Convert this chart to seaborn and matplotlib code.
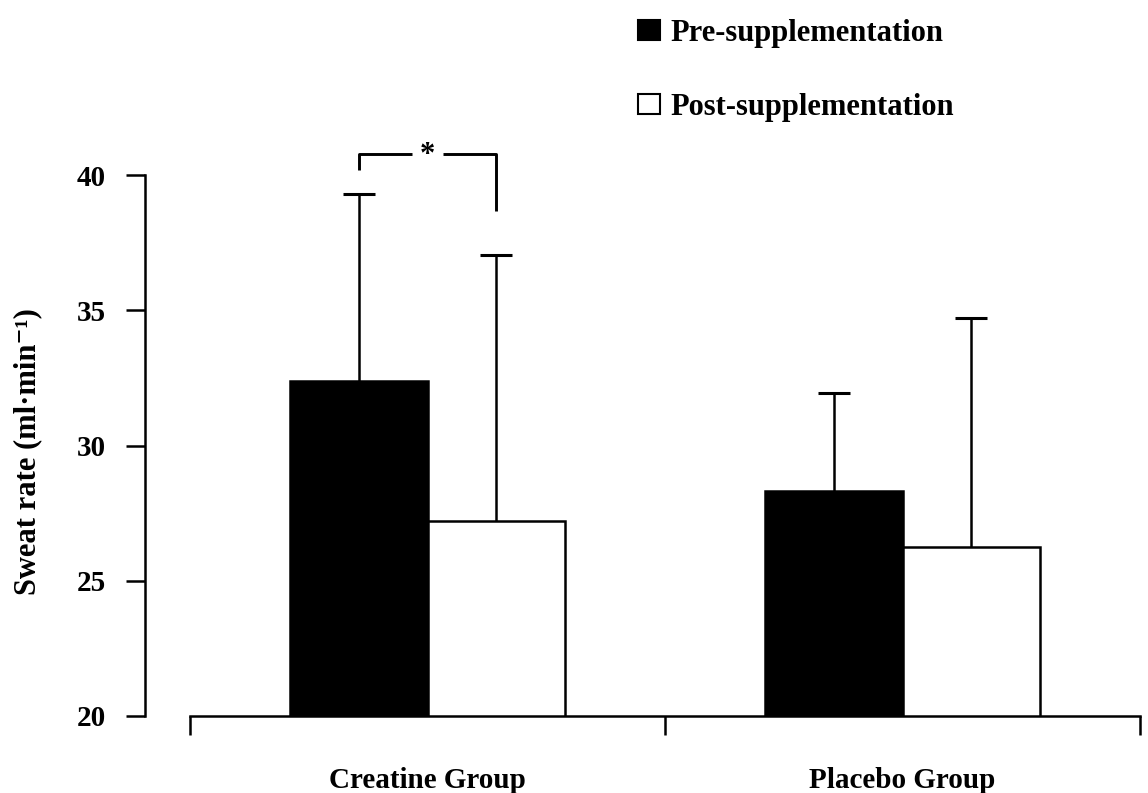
import matplotlib
matplotlib.use("Agg")
import matplotlib.pyplot as plt
import seaborn as sns
import pandas as pd
import numpy as np
from matplotlib.patches import Patch
from matplotlib.ticker import FixedLocator

groups = ["Creatine Group", "Placebo Group"]
phases = ["Pre-supplementation", "Post-supplementation"]
pre_mean = [32.4, 28.3]
post_mean = [27.2, 26.25]
pre_sd = [6.9, 3.65]
post_sd = [9.85, 8.45]
y_ticks = [20, 25, 30, 35, 40]
ylabel = "Sweat rate (ml·min⁻¹)"
sig_label = "*"

sns.set_theme(style="ticks")
plt.rcParams["font.family"] = ["Liberation Serif", "DejaVu Serif"]
plt.rcParams["text.color"] = "black"
plt.rcParams["axes.labelcolor"] = "black"

df = pd.DataFrame({
    "group": groups * 2,
    "phase": [phases[0]] * 2 + [phases[1]] * 2,
    "mean": pre_mean + post_mean,
    "sd": pre_sd + post_sd,
})

W, H = 1148, 793
LW = 1.8
fig = plt.figure(figsize=(W / 100, H / 100), dpi=100)
ax = fig.add_axes([145 / W, (H - 716) / H, (1140 - 145) / W, (716 - 175) / H])

sns.barplot(data=df, x="group", y="mean", hue="phase", order=groups,
            hue_order=phases, palette=["black", "white"], width=0.58,
            edgecolor="black", linewidth=LW, errorbar=None, ax=ax,
            legend=False, saturation=1)

# error bars (upper only) from bar geometry
bars = [p for p in ax.patches if p.get_height() > 0]
bar_x = {}
for i, ph in enumerate(phases):
    sub = df[df.phase == ph]
    for j, g in enumerate(groups):
        p = bars[i * len(groups) + j]
        cx = p.get_x() + p.get_width() / 2
        bar_x[(ph, g)] = cx
        m = sub[sub.group == g]["mean"].values[0]
        s = sub[sub.group == g]["sd"].values[0]
        _, caps, _ = ax.errorbar(cx, m, yerr=[[0], [s]], fmt="none",
                                 ecolor="black", elinewidth=LW, capsize=11.5,
                                 capthick=LW + 0.4, zorder=3, clip_on=False)
        caps[0].set_visible(False)

ax.set_ylim(20, 40)
ax.set_xlim(-0.5 - 45 / 475, 1.5)

# significance bracket
x1 = bar_x[(phases[0], groups[0])]
x2 = bar_x[(phases[1], groups[0])]
yb = 40.78
xm = (x1 + x2) / 2
gap = 0.032
kw = dict(color="black", lw=LW + 0.3, clip_on=False, solid_capstyle="butt")
ax.plot([x1, x1, xm - gap], [40.18, yb, yb], **kw)
ax.plot([xm + gap, x2, x2], [yb, yb, 38.67], **kw)
ax.text(xm, yb - 0.05, sig_label, ha="center", va="center", fontsize=22,
        fontweight="bold", clip_on=False)

# axes styling
sns.despine(ax=ax)
ax.spines["left"].set_bounds(20, 40)
ax.spines["bottom"].set_bounds(-0.5, 1.5)
for sp in ["left", "bottom"]:
    ax.spines[sp].set_linewidth(LW)
    ax.spines[sp].set_color("black")

ax.set_yticks(y_ticks)
ax.set_yticklabels([str(t) for t in y_ticks], fontweight="bold")
ax.tick_params(axis="y", length=14, width=LW, pad=14, labelsize=21,
               colors="black")
ax.xaxis.set_minor_locator(FixedLocator([-0.5, 0.5, 1.5]))
ax.tick_params(axis="x", which="major", length=0, pad=37, labelsize=21,
               colors="black")
for t in ax.get_xticklabels():
    t.set_fontweight("bold")
ax.tick_params(axis="x", which="minor", length=14, width=LW, color="black")
ax.set_xlabel("")
ax.set_ylabel(ylabel, fontsize=22, color="black", fontweight="bold")
ax.yaxis.set_label_coords(-0.103, 0.488)

# legend
handles = [Patch(facecolor="black", edgecolor="black", lw=1.5),
           Patch(facecolor="white", edgecolor="black", lw=1.5)]
fig.legend(handles, phases, loc="upper left",
           bbox_to_anchor=(638 / W, 1 - 19 / H), frameon=False,
           prop={"size": 22, "weight": "bold"}, handlelength=0.72,
           handleheight=0.62, handletextpad=0.35, labelspacing=1.47,
           borderpad=0, borderaxespad=0)

fig.savefig("out.png", dpi=100, facecolor="white")
